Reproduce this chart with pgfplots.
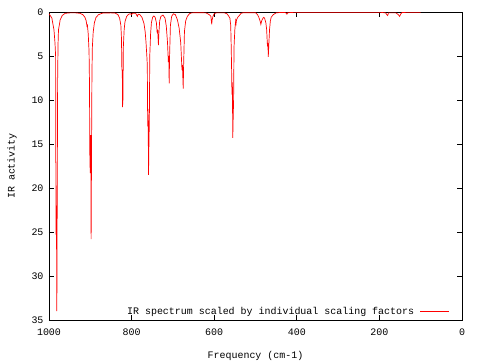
\documentclass[border=0pt]{standalone}
\usepackage{fontspec}
\setmainfont{Liberation Mono}
\usepackage{pgfplots}
\pgfplotsset{compat=1.18}
\begin{document}
\begin{tikzpicture}
\begin{axis}[
  scale only axis,
  width=413bp, height=308bp,
  xmin=0, xmax=1000, ymin=0, ymax=35,
  x dir=reverse, y dir=reverse,
  xtick={0,200,400,600,800,1000},
  ytick={0,5,10,15,20,25,30,35},
  tick align=inside,
  major tick length=5bp,
  axis line style={line width=0.6pt},
  every tick/.style={black, line width=0.6pt},
  /pgf/number format/assume math mode=true,
  /pgf/number format/1000 sep={},
  tick label style={font=\fontsize{10}{12}\selectfont},
  xticklabel style={yshift=-5bp},
  yticklabel style={xshift=-2bp},
  label style={font=\fontsize{10}{12}\selectfont},
  xlabel={Frequency (cm-1)},
  ylabel={IR activity},
  xlabel style={yshift=-9bp},
  ylabel style={yshift=8bp},
  legend plot pos=right,
  legend cell align=right,
  legend style={at={(1,0)}, anchor=south east, xshift=-12bp, yshift=2bp,
    draw=none, fill=none, font=\fontsize{10}{12}\selectfont,
    inner sep=0pt, row sep=0pt, column sep=4bp},
  legend image code/.code={\draw[#1] (0bp,0bp) -- (29bp,0bp);},
]
\addplot[red, line width=0.7pt] coordinates {
(1000,0.2) (997,0.4) (993,0.7) (990,1.5) (988,2) (985.5,3.5) (984,5)
(983,25.3) (982,22) (981,34) (980,20) (979,7) (978,3.5) (977,2)
(975,1.5) (973,0.9) (968,0.4) (961,0.15) (950,0.1)
(935,0.1) (925,0.15) (918,0.3) (913,0.6) (910,1.0) (908,1.6) (907,1.5)
(905,2.5) (903,4.5) (902,8) (901,17) (900,18.3) (899,14) (898,25.8)
(897,16) (896,7) (895,4) (893,2.3) (890,1.2) (886,0.6) (880,0.3)
(870,0.12) (850,0.1)
(840,0.12) (833,0.3) (829,0.7) (826,1.5) (824.5,3) (823.5,6.6) (822.5,6.6)
(822,10.8) (821,10) (820,4) (818,2) (816,1.1) (812,0.5) (807,0.25)
(803,0.2) (800,0.3) (798,0.15) (790,0.15) (786,0.5) (784,0.25) (780,0.3)
(775,0.6) (770,1.3) (767,2.3) (765,3.5) (763,5.1) (762,6) (761,13)
(760,11) (759,18.5) (758,15) (757,12.3) (756,5) (754,2.5) (752,1.2)
(749,0.6) (746,0.45) (743,0.6) (740,1.2) (738,2.4) (737,2) (735,3.75)
(734,2.5) (732,1.0) (729,0.5) (724,0.35) (719,0.7) (716,1.6) (713,3.5)
(711,5.7) (710,5) (709,8.1) (708,5) (706,1.5) (703,0.5) (699,0.2)
(694,0.3) (689,0.9) (685,1.8) (681,3.5) (678,6.6) (677,6) (675,8.7)
(674,6) (672,2.2) (669,1.0) (665,0.5) (660,0.2) (655,0.1) (640,0.08)
(620,0.1) (612,0.3) (608,0.5) (606,1.4) (605,0.9) (603,0.5) (600,0.2)
(595,0.1) (575,0.1) (569,0.2) (565,0.45) (562,0.7) (560,1.5) (559,3.5)
(558,6) (557,9.4) (556,8) (555,14.3) (554,12) (553,10) (552,4) (550,2)
(548,1.0) (547,1.3) (546,0.9) (543,0.6) (540,0.45) (535,0.15) (530,0.08)
(500,0.08) (495,0.3) (492,0.6) (489,1.0) (487,1.4) (485,1.0) (482,0.7)
(480,0.6) (478,0.7) (475,1.2) (473,2) (471,3.9) (470,3.5) (469,5.1)
(468,4) (466,2) (464,1.0) (462,0.6) (457,0.3) (450,0.1) (440,0.05)
(430,0.05) (426,0.1) (424,0.25) (422,0.08) (400,0.02) (200,0.02)
(185,0.1) (182,0.3) (180,0.4) (178,0.1) (160,0.1) (154,0.3) (151,0.5)
(148,0.2) (145,0.05) (100,0.02)
};
\addlegendentry{IR spectrum scaled by individual scaling factors}
\end{axis}
\path (current axis.south west) ++(-49bp,-40bp) rectangle ++(480bp,360bp);
\end{tikzpicture}
\end{document}
